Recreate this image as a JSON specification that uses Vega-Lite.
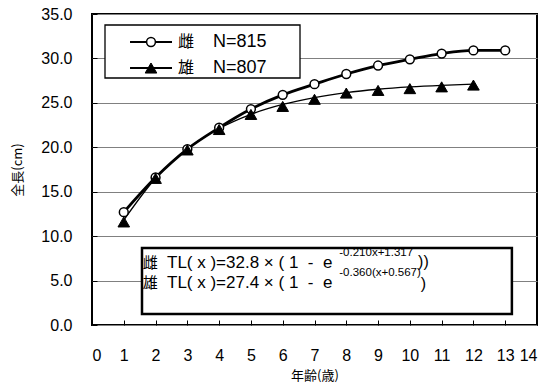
{
  "$schema": "https://vega.github.io/schema/vega-lite/v6.json",
  "width": 445,
  "height": 311,
  "autosize": {"type": "none"},
  "padding": {"left": 92, "top": 14, "right": 8, "bottom": 60},
  "background": "white",
  "config": {
    "view": {"stroke": "black", "strokeWidth": 2},
    "font": "Liberation Sans, Noto Sans CJK JP",
    "axis": {
      "domain": false,
      "tickColor": "black",
      "tickSize": -5,
      "tickWidth": 1,
      "labelColor": "black",
      "labelFont": "Liberation Sans",
      "labelFontSize": 16,
      "labelOverlap": false,
      "titleColor": "black",
      "titleFont": "Noto Sans CJK JP",
      "titleFontSize": 13,
      "titleFontWeight": "normal"
    }
  },
  "data": {
    "values": [
      {"age": 1, "sex": "雌", "TL": 12.7, "fit": 12.64},
      {"age": 2, "sex": "雌", "TL": 16.6, "fit": 16.46},
      {"age": 3, "sex": "雌", "TL": 19.8, "fit": 19.55},
      {"age": 4, "sex": "雌", "TL": 22.2, "fit": 22.06},
      {"age": 5, "sex": "雌", "TL": 24.3, "fit": 24.10},
      {"age": 6, "sex": "雌", "TL": 25.9, "fit": 25.74},
      {"age": 7, "sex": "雌", "TL": 27.1, "fit": 27.08},
      {"age": 8, "sex": "雌", "TL": 28.25, "fit": 28.16},
      {"age": 9, "sex": "雌", "TL": 29.2, "fit": 29.04},
      {"age": 10, "sex": "雌", "TL": 29.9, "fit": 29.75},
      {"age": 11, "sex": "雌", "TL": 30.55, "fit": 30.33},
      {"age": 12, "sex": "雌", "TL": 30.9, "fit": 30.80},
      {"age": 13, "sex": "雌", "TL": 30.9, "fit": 31.18},
      {"age": 1, "sex": "雄", "TL": 11.6, "fit": 11.81},
      {"age": 2, "sex": "雄", "TL": 16.5, "fit": 16.52},
      {"age": 3, "sex": "雄", "TL": 19.7, "fit": 19.81},
      {"age": 4, "sex": "雄", "TL": 22.0, "fit": 22.11},
      {"age": 5, "sex": "雄", "TL": 23.7, "fit": 23.71},
      {"age": 6, "sex": "雄", "TL": 24.6, "fit": 24.82},
      {"age": 7, "sex": "雄", "TL": 25.4, "fit": 25.60},
      {"age": 8, "sex": "雄", "TL": 26.1, "fit": 26.15},
      {"age": 9, "sex": "雄", "TL": 26.4, "fit": 26.53},
      {"age": 10, "sex": "雄", "TL": 26.6, "fit": 26.79},
      {"age": 11, "sex": "雄", "TL": 26.8, "fit": 26.97},
      {"age": 12, "sex": "雄", "TL": 27.0, "fit": 27.10}
    ]
  },
  "encoding": {
    "x": {
      "type": "quantitative",
      "scale": {"domain": [0, 14], "nice": false},
      "axis": {
        "title": "年齢(歳)",
        "values": [0, 1, 2, 3, 4, 5, 6, 7, 8, 9, 10, 11, 12, 13, 14],
        "grid": false,
        "labelPadding": 27,
        "titlePadding": 6
      }
    },
    "y": {
      "type": "quantitative",
      "scale": {"domain": [0, 35], "nice": false},
      "axis": {
        "title": "全長(cm)",
        "values": [0, 5, 10, 15, 20, 25, 30, 35],
        "format": ".1f",
        "grid": true,
        "gridColor": "#808080",
        "gridWidth": 1,
        "labelPadding": 25,
        "titlePadding": 16
      }
    }
  },
  "layer": [
    {
      "transform": [{"filter": "datum.sex === '雌'"}],
      "mark": {"type": "line", "color": "black", "strokeWidth": 2.8, "interpolate": "monotone"},
      "encoding": {"x": {"field": "age"}, "y": {"field": "TL"}}
    },
    {
      "transform": [{"filter": "datum.sex === '雄'"}],
      "mark": {"type": "line", "color": "black", "strokeWidth": 1.3, "interpolate": "monotone"},
      "encoding": {"x": {"field": "age"}, "y": {"field": "fit"}}
    },
    {
      "data": {"values": [{"box": "equations"}]},
      "mark": {"type": "rect", "fill": "white", "stroke": "black", "strokeWidth": 2.5},
      "encoding": {
        "x": {"datum": 1.573},
        "x2": {"datum": 13.21},
        "y": {"datum": 1.24},
        "y2": {"datum": 8.67}
      }
    },
    {
      "data": {"values": [{"box": "equations"}]},
      "mark": {"type": "text", "text": "雌", "align": "left", "baseline": "middle", "fontSize": 15, "font": "Noto Sans CJK JP"},
      "encoding": {"x": {"datum": 1.6}, "y": {"datum": 6.98}}
    },
    {
      "data": {"values": [{"box": "equations"}]},
      "mark": {"type": "text", "text": "TL( x )=32.8 × ( 1 \u00a0- \u00a0e", "align": "left", "baseline": "middle", "fontSize": 17, "font": "Liberation Sans"},
      "encoding": {"x": {"datum": 2.36}, "y": {"datum": 6.98}}
    },
    {
      "data": {"values": [{"box": "equations"}]},
      "mark": {"type": "text", "text": "-0.210x+1.317", "align": "left", "baseline": "middle", "fontSize": 11.5, "font": "Liberation Sans"},
      "encoding": {"x": {"datum": 7.78}, "y": {"datum": 8.1}}
    },
    {
      "data": {"values": [{"box": "equations"}]},
      "mark": {"type": "text", "text": "))", "align": "left", "baseline": "middle", "fontSize": 16, "font": "Liberation Sans"},
      "encoding": {"x": {"datum": 10.26}, "y": {"datum": 7.05}}
    },
    {
      "data": {"values": [{"box": "equations"}]},
      "mark": {"type": "text", "text": "雄", "align": "left", "baseline": "middle", "fontSize": 15, "font": "Noto Sans CJK JP"},
      "encoding": {"x": {"datum": 1.6}, "y": {"datum": 4.73}}
    },
    {
      "data": {"values": [{"box": "equations"}]},
      "mark": {"type": "text", "text": "TL( x )=27.4 × ( 1 \u00a0- \u00a0e", "align": "left", "baseline": "middle", "fontSize": 17, "font": "Liberation Sans"},
      "encoding": {"x": {"datum": 2.36}, "y": {"datum": 4.73}}
    },
    {
      "data": {"values": [{"box": "equations"}]},
      "mark": {"type": "text", "text": "-0.360(x+0.567)", "align": "left", "baseline": "middle", "fontSize": 11.5, "font": "Liberation Sans"},
      "encoding": {"x": {"datum": 7.78}, "y": {"datum": 5.85}}
    },
    {
      "data": {"values": [{"box": "equations"}]},
      "mark": {"type": "text", "text": ")", "align": "left", "baseline": "middle", "fontSize": 16, "font": "Liberation Sans"},
      "encoding": {"x": {"datum": 10.34}, "y": {"datum": 4.66}}
    },
    {
      "transform": [{"filter": "datum.sex === '雌'"}],
      "mark": {"type": "point", "shape": "circle", "fill": "white", "stroke": "black", "strokeWidth": 1.5, "opacity": 1, "size": 78},
      "encoding": {"x": {"field": "age"}, "y": {"field": "TL"}}
    },
    {
      "transform": [{"filter": "datum.sex === '雄'"}],
      "mark": {"type": "point", "shape": "triangle-up", "fill": "black", "stroke": "black", "strokeWidth": 1, "opacity": 1, "size": 135},
      "encoding": {"x": {"field": "age"}, "y": {"field": "TL"}}
    },
    {
      "data": {"values": [{"box": "legend"}]},
      "mark": {"type": "rect", "fill": "white", "stroke": "black", "strokeWidth": 1.3},
      "encoding": {
        "x": {"datum": 0.409},
        "x2": {"datum": 6.544},
        "y": {"datum": 27.8},
        "y2": {"datum": 33.76}
      }
    },
    {
      "data": {"values": [{"box": "legend"}]},
      "mark": {"type": "rule", "color": "black", "strokeWidth": 2},
      "encoding": {"x": {"datum": 1.196}, "x2": {"datum": 2.517}, "y": {"datum": 31.85}}
    },
    {
      "data": {"values": [{"box": "legend"}]},
      "mark": {"type": "rule", "color": "black", "strokeWidth": 2},
      "encoding": {"x": {"datum": 1.196}, "x2": {"datum": 2.517}, "y": {"datum": 28.92}}
    },
    {
      "data": {"values": [{"box": "legend"}]},
      "mark": {"type": "point", "shape": "circle", "fill": "white", "stroke": "black", "strokeWidth": 1.5, "opacity": 1, "size": 78},
      "encoding": {"x": {"datum": 1.856}, "y": {"datum": 31.85}}
    },
    {
      "data": {"values": [{"box": "legend"}]},
      "mark": {"type": "point", "shape": "triangle-up", "fill": "black", "stroke": "black", "strokeWidth": 1, "opacity": 1, "size": 135},
      "encoding": {"x": {"datum": 1.856}, "y": {"datum": 28.92}}
    },
    {
      "data": {"values": [{"box": "legend"}]},
      "mark": {"type": "text", "text": "雌", "align": "left", "baseline": "middle", "fontSize": 16, "font": "Noto Sans CJK JP"},
      "encoding": {"x": {"datum": 2.706}, "y": {"datum": 31.85}}
    },
    {
      "data": {"values": [{"box": "legend"}]},
      "mark": {"type": "text", "text": "N=815", "align": "left", "baseline": "middle", "fontSize": 18, "font": "Liberation Sans"},
      "encoding": {"x": {"datum": 3.807}, "y": {"datum": 31.85}}
    },
    {
      "data": {"values": [{"box": "legend"}]},
      "mark": {"type": "text", "text": "雄", "align": "left", "baseline": "middle", "fontSize": 16, "font": "Noto Sans CJK JP"},
      "encoding": {"x": {"datum": 2.706}, "y": {"datum": 28.92}}
    },
    {
      "data": {"values": [{"box": "legend"}]},
      "mark": {"type": "text", "text": "N=807", "align": "left", "baseline": "middle", "fontSize": 18, "font": "Liberation Sans"},
      "encoding": {"x": {"datum": 3.807}, "y": {"datum": 28.92}}
    }
  ]
}
